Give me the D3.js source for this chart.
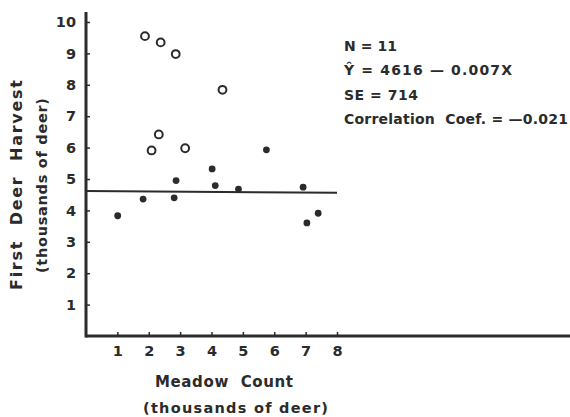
<!DOCTYPE html>
<html>
<head>
<meta charset="utf-8">
<script src="https://cdn.jsdelivr.net/npm/d3@7"></script>
<style>
  body { margin: 0; background: #fff; }
  text { font-family: "DejaVu Sans", sans-serif; font-weight: bold; fill: #2b2b2b; white-space: pre; }
</style>
</head>
<body>
<script>
// size and plot frame
const width = 570;
const height = 417;
const marginTop = 12;
const marginLeft = 86;
const axisBottom = 336;
const ink = "#2b2b2b";

// meadow count vs first harvest, thousands of deer
const filledX = [1.01, 1.82, 2.81, 2.87, 4.02, 4.12, 4.86, 5.75, 6.92, 7.40, 7.04];
const filledY = [3.83, 4.36, 4.40, 4.95, 5.32, 4.79, 4.68, 5.93, 4.74, 3.91, 3.60];
const openX = [1.88, 2.38, 2.86, 4.35, 2.32, 2.09, 3.16];
const openY = [9.55, 9.35, 8.98, 7.84, 6.42, 5.91, 5.98];

const xTicks = [1, 2, 3, 4, 5, 6, 7, 8];
const yTicks = [1, 2, 3, 4, 5, 6, 7, 8, 9, 10];

// fitted line Y = 4616 - 0.007X
const intercept = 4.616;
const slope = -0.007;
const fitRange = [0, 8];

const statLines = ["N = 11", "Ŷ = 4616 — 0.007X", "SE = 714", "Correlation  Coef. = —0.021"];
const statWidths = [53, 168, 74, 224];

const x = d3.scaleLinear().domain([0, 8]).range([marginLeft, 337]);
const y = d3.scaleLinear().domain([0, 10]).range([axisBottom, 22]);

const svg = d3.select("body")
  .append("svg")
  .attr("width", width)
  .attr("height", height);

// axes
svg.append("line")
  .attr("x1", marginLeft).attr("x2", width)
  .attr("y1", axisBottom).attr("y2", axisBottom)
  .attr("stroke", ink).attr("stroke-width", 3);

svg.append("line")
  .attr("x1", marginLeft).attr("x2", marginLeft)
  .attr("y1", marginTop).attr("y2", axisBottom + 1.5)
  .attr("stroke", ink).attr("stroke-width", 3);

const xAxis = svg.append("g")
  .attr("transform", `translate(0,${axisBottom})`)
  .call(d3.axisBottom(x).tickValues(xTicks).tickSize(-4).tickPadding(10).tickFormat(d3.format("d")));
xAxis.select(".domain").remove();
xAxis.selectAll("line").attr("stroke", ink).attr("stroke-width", 1.5);
xAxis.selectAll("text").attr("font-size", 14.5).attr("fill", ink);

const yAxis = svg.append("g")
  .attr("transform", `translate(${marginLeft},0)`)
  .call(d3.axisLeft(y).tickValues(yTicks).tickSize(-4).tickPadding(10).tickFormat(d3.format("d")));
yAxis.select(".domain").remove();
yAxis.selectAll("line").attr("stroke", ink).attr("stroke-width", 1.5);
yAxis.selectAll("text").attr("font-size", 14.5).attr("fill", ink);

// axis titles
svg.append("text")
  .attr("x", 155).attr("y", 387)
  .attr("font-size", 15)
  .attr("textLength", 138)
  .attr("lengthAdjust", "spacing")
  .text("Meadow  Count");

svg.append("text")
  .attr("x", 143).attr("y", 413)
  .attr("font-size", 14.5)
  .attr("textLength", 185)
  .attr("lengthAdjust", "spacing")
  .text("(thousands of deer)");

svg.append("text")
  .attr("transform", "translate(22,290) rotate(-90)")
  .attr("font-size", 16)
  .attr("textLength", 210)
  .attr("lengthAdjust", "spacing")
  .text("First  Deer  Harvest");

svg.append("text")
  .attr("transform", "translate(47,273) rotate(-90)")
  .attr("font-size", 14.5)
  .attr("textLength", 175)
  .attr("lengthAdjust", "spacing")
  .text("(thousands of deer)");

// regression line
svg.append("line")
  .attr("x1", x(fitRange[0])).attr("y1", y(intercept + slope * fitRange[0]))
  .attr("x2", x(fitRange[1])).attr("y2", y(intercept + slope * fitRange[1]))
  .attr("stroke", ink).attr("stroke-width", 2);

// points
svg.append("g").selectAll("circle")
  .data(d3.zip(filledX, filledY))
  .join("circle")
  .attr("cx", d => x(d[0]))
  .attr("cy", d => y(d[1]))
  .attr("r", 3.4)
  .attr("fill", ink);

svg.append("g").selectAll("circle")
  .data(d3.zip(openX, openY))
  .join("circle")
  .attr("cx", d => x(d[0]))
  .attr("cy", d => y(d[1]))
  .attr("r", 3.9)
  .attr("fill", "none")
  .attr("stroke", ink)
  .attr("stroke-width", 2);

// fit statistics
svg.append("g").selectAll("text")
  .data(statLines)
  .join("text")
  .attr("x", 344)
  .attr("y", (d, i) => 51 + i * 24.4)
  .attr("font-size", 14)
  .attr("textLength", (d, i) => statWidths[i])
  .attr("lengthAdjust", "spacing")
  .text(d => d);
</script>
</body>
</html>
